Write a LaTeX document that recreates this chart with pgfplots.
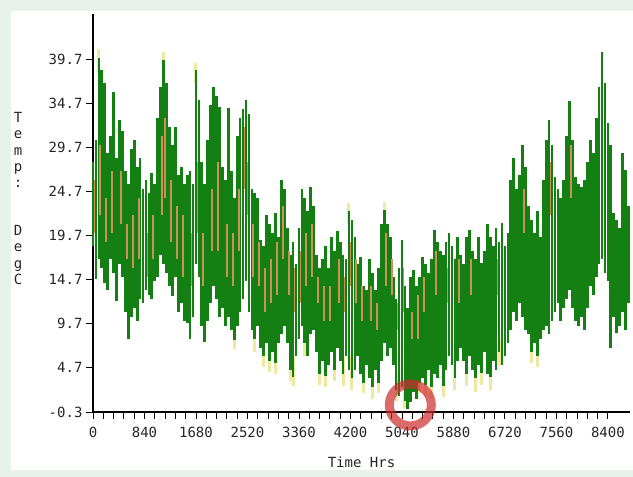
\documentclass[border=0pt]{standalone}
\usepackage{fontspec}
\setmainfont{DejaVu Sans Mono}
\usepackage{pgfplots}
\usepackage{pgfplotstable}
\pgfplotsset{compat=1.18}

\definecolor{bgc}{RGB}{232,242,234}
\definecolor{tgreen}{RGB}{20,128,20}
\definecolor{ttan}{RGB}{203,146,88}
\definecolor{tyel}{RGB}{238,232,160}
\definecolor{ring}{RGB}{205,45,45}

% daily range, one row every 48 h: high, low
\pgfplotstableread{
hi lo
28.0 18.5
30.5 14.8
39.8 17.0
38.5 16.0
37.0 14.3
29.0 13.5
31.0 17.0
36.0 15.5
28.5 12.3
32.8 16.5
31.5 15.0
27.0 11.0
25.5 8.0
29.5 10.5
30.5 11.5
27.5 10.0
28.5 12.5
25.0 12.0
26.0 13.5
24.5 13.0
26.8 12.5
25.5 14.5
33.0 15.0
36.5 17.5
39.6 16.5
37.0 15.5
32.0 14.0
30.0 12.8
32.0 15.0
26.5 11.0
27.5 12.0
25.5 10.0
26.5 9.8
27.0 8.0
25.5 10.5
38.5 16.5
35.0 15.0
28.0 9.5
25.5 7.6
30.5 10.0
34.5 12.0
36.5 14.0
35.5 12.5
34.3 10.5
27.5 11.5
26.0 9.5
34.2 10.5
27.0 9.0
24.0 7.9
31.0 9.5
33.0 11.0
34.0 12.5
35.0 14.5
33.5 11.0
25.0 9.0
24.5 8.0
24.0 9.5
19.2 7.0
18.5 6.0
22.0 7.5
21.0 5.5
20.0 6.5
22.3 5.3
19.5 7.5
26.0 8.5
25.0 9.5
20.5 7.5
17.5 4.5
19.0 3.7
16.5 6.0
20.5 8.0
25.0 9.5
24.0 7.5
22.5 6.0
25.2 8.5
23.0 9.0
17.5 6.5
16.0 4.0
17.0 5.5
18.5 3.8
16.0 5.0
19.5 6.5
18.0 4.5
20.2 7.0
19.0 5.5
17.5 4.0
17.0 6.0
22.5 4.5
21.5 3.5
19.5 4.5
16.5 6.0
17.3 4.0
14.0 3.0
13.5 5.0
17.0 3.5
15.5 2.5
13.5 4.5
16.0 3.0
21.0 5.5
22.6 7.5
21.0 6.0
19.5 7.0
15.0 5.0
12.5 2.2
16.0 1.5
19.2 2.5
14.0 1.0
11.5 0.0
15.0 0.8
15.8 2.0
14.0 1.2
15.0 3.0
17.3 3.5
16.5 2.8
15.5 4.5
17.0 2.5
20.3 4.0
19.0 3.5
18.0 5.0
17.5 2.7
19.0 4.5
20.0 6.0
18.5 5.0
17.0 3.5
19.5 5.5
17.5 7.0
16.5 5.5
19.5 4.0
20.3 6.0
18.0 4.5
17.0 3.5
19.5 5.0
16.6 4.1
18.0 6.5
21.0 4.0
19.5 3.7
18.5 5.5
20.5 4.5
19.0 6.5
21.1 5.0
18.5 6.0
20.0 7.5
26.0 9.0
28.5 11.0
25.0 10.0
26.5 12.0
30.0 10.5
27.5 9.0
23.0 8.5
21.5 6.5
20.0 7.5
22.5 6.0
19.5 8.0
26.0 9.0
30.5 9.5
32.8 8.5
30.0 10.0
26.3 11.0
25.0 12.0
24.0 10.0
26.0 11.5
31.0 12.5
34.9 13.5
30.5 11.5
26.3 10.0
25.5 9.5
25.2 10.5
26.0 9.0
28.0 11.5
30.5 14.0
29.0 13.0
33.0 15.0
36.5 16.5
40.5 17.0
37.0 15.5
32.5 14.5
30.0 7.0
22.3 10.5
21.5 8.7
20.5 9.5
29.0 11.0
27.1 9.0
23.0 12.0
}\greendata

% second sensor (tan)
\pgfplotstableread{
t lo hi
24 20 26
120 22 30
216 19 24
312 20 27
456 21 27
552 17 21
648 16 22
744 17 24
888 15 20
984 17 22
1128 22 31
1176 24 33
1272 19 26
1368 17 23
1464 15 22
1608 14 20
1704 20 28
1800 14 20
1944 18 25
2040 18 28
2184 15 21
2280 14 20
2376 18 25
2472 25 32
2520 22 28
2616 15 21
2712 14 19
2808 11 16
2904 12 17
3000 13 19
3096 17 23
3192 13 18
3288 11 16
3384 12 18
3480 14 20
3576 15 21
3672 12 15
3768 10 14
3864 10 14
4008 12 17
4104 11 15
4200 14 19
4296 12 17
4392 10 14
4536 10 14
4632 9 12
4776 14 20
4872 13 17
4968 9 12
5064 11 16
5208 8 11
5304 8 13
5400 11 15
5592 13 18
5784 12 16
5976 12 17
6168 13 17
6600 13 17
7032 20 25
7464 22 28
7800 24 30
}\tandata

% third sensor (pale)
\pgfplotstableread{
t lo hi
96 38 40.8
1152 38 40.5
1680 37 39.3
2304 6.8 10
2640 6.5 10
2784 4.8 8
2880 4.2 8
2976 4.0 7
3216 3.2 7
3264 2.6 6
3456 6.0 9
3696 2.8 6
3792 2.5 6
3936 3.2 7
4080 2.6 6
4176 21 23.4
4224 2.2 6
4416 1.8 5
4560 1.2 5
4656 1.8 5
4752 21 23.5
4944 1.0 4
5088 0.2 3
5328 1.8 5
5424 1.5 5
5520 1.2 5
5712 1.4 5
5904 2.2 6
6096 2.6 6
6240 2.0 6
6336 2.8 6
6480 2.2 6
6624 5.0 8
7152 5.2 8
7248 4.8 8
}\yeldata

\begin{document}
\begin{tikzpicture}
\fill[bgc] (-93pt,-65pt) rectangle (540pt,412pt);
\fill[white] (-82pt,-58pt) rectangle (540pt,401pt);
\begin{axis}[
  at={(0pt,0pt)}, anchor=south west,
  scale only axis, width=537pt, height=398pt,
  xmin=0, xmax=8760, ymin=-0.3, ymax=44.8,
  clip=false,
  axis x line=bottom, axis y line=left,
  axis line style={-, line width=1.2pt, black},
  tick style={black, line width=0.9pt},
  tick align=outside,
  major tick length=7pt, minor tick length=7pt,
  xtick={0,840,1680,2520,3360,4200,5040,5880,6720,7560,8400},
  xticklabels={0,840,1680,2520,3360,4200,5040,5880,6720,7560,8400},
  minor x tick num=4,
  ytick={-0.3,4.7,9.7,14.7,19.7,24.7,29.7,34.7,39.7},
  yticklabels={-0.3,4.7,9.7,14.7,19.7,24.7,29.7,34.7,39.7},
  ticklabel style={font=\fontsize{14}{16}\selectfont, text=black!85},
  xticklabel style={yshift=-5pt},
  xlabel={Time Hrs},
  xlabel style={font=\fontsize{14}{16}\selectfont, text=black!85,
    at={(axis description cs:0.5,0)}, anchor=center, yshift=-50pt},
]
\addplot[draw=none, mark=none, forget plot,
  error bars/.cd, y dir=plus, y explicit, error mark=none,
  error bar style={line width=3pt, draw=tyel}]
  table[x=t, y=lo, y error expr=\thisrow{hi}-\thisrow{lo}] {\yeldata};
\addplot[draw=none, mark=none, forget plot,
  error bars/.cd, y dir=plus, y explicit, error mark=none,
  error bar style={line width=2.75pt, draw=tgreen}]
  table[x expr=\coordindex*48, y=lo, y error expr=\thisrow{hi}-\thisrow{lo}] {\greendata};
\addplot[draw=none, mark=none, forget plot,
  error bars/.cd, y dir=plus, y explicit, error mark=none,
  error bar style={line width=1.8pt, draw=ttan}]
  table[x=t, y=lo, y error expr=\thisrow{hi}-\thisrow{lo}] {\tandata};
\draw[ring, opacity=0.7, line width=9pt] (axis cs:5177,0.5) circle[radius=21pt];
\end{axis}
\node[font=\fontsize{14}{16.3}\selectfont, text=black!85, align=center, inner sep=0pt]
  at (-75pt,262pt) {T\\e\\m\\p\\:};
\node[font=\fontsize{14}{16.3}\selectfont, text=black!85, align=center, inner sep=0pt]
  at (-75pt,157pt) {D\\e\\g\\C};
\pgfresetboundingbox
\useasboundingbox (-93pt,-65pt) rectangle (540pt,412pt);
\end{tikzpicture}
\end{document}
